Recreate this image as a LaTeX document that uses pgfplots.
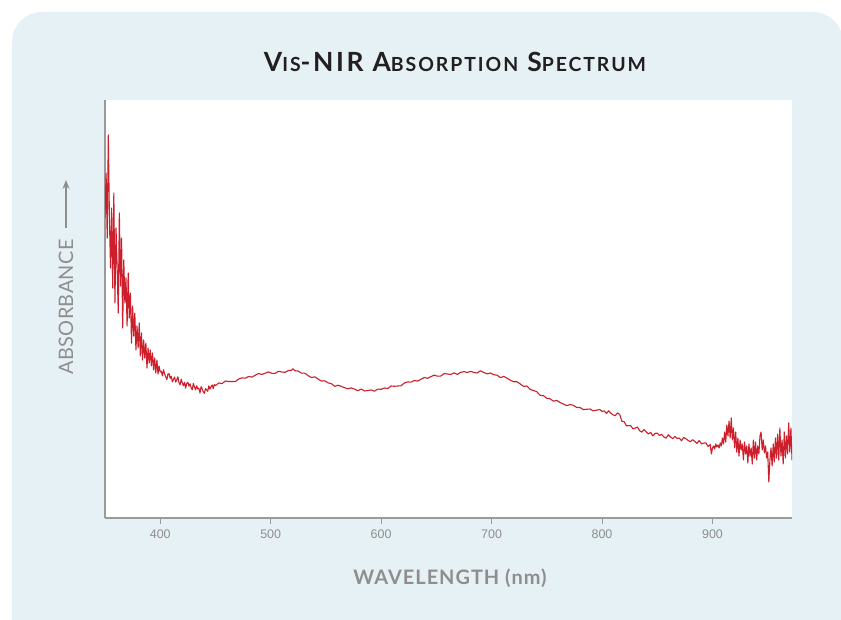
\documentclass[border=0pt]{standalone}
\usepackage{fontspec}
\usepackage{pgfplots}
\pgfplotsset{compat=1.18}
\usetikzlibrary{arrows.meta}
\setmainfont{Lato}
\newfontfamily\tickfont{Liberation Sans}
\newfontfamily\titlefont[LetterSpace=10]{Lato}
\newfontfamily\labfont[LetterSpace=5]{Lato}
\newfontfamily\ylabfont[LetterSpace=2]{Lato}
\definecolor{panel}{HTML}{E6F1F6}
\definecolor{axgray}{HTML}{9A9A9A}
\definecolor{labgray}{HTML}{8E8E8E}
\definecolor{spec}{HTML}{CC1F2B}
\definecolor{titlecol}{HTML}{231F20}

\pgfplotstableread{
x y
350 300
351 345
352 280
353 383
354 300
355 250
356 310
357 230
358 325
359 215
360 290
361 250
362 205
363 305
364 232
365 280
366 190
367 258
368 215
369 240
370 192
371 245
372 200
373 225
374 175
375 212
376 182
377 205
378 168
379 192
380 170
381 195
382 162
383 185
384 158
385 178
386 160
387 175
388 150
389 170
390 155
391 168
392 152
393 165
394 148
395 160
396 145
397 158
398 144
399 152
400 146
401 146.8
402 142.1
403 148.2
404 144.0
405 141.2
406 138.4
407 144.0
408 144.3
409 139.7
410 141.8
411 136.1
412 138.6
413 141.0
414 135.9
415 138.3
416 141.2
417 135.3
418 133.1
419 138.8
420 135.0
421 132.2
422 135.8
423 129.8
424 134.6
425 135.8
426 131.8
427 134.2
428 130.2
429 128.2
430 134.6
431 131.0
432 128.2
433 132.2
434 129.0
435 129.8
436 125.0
437 131.4
438 129.0
439 126.2
440 124.6
441 129.4
442 128.2
443 126.7
444 132.1
445 128.8
446 131.2
447 133.0
448 129.4
449 133.6
450 132.4
453 135.0
456 134.4
459 137.0
462 136.5
465 136.5
468 136.4
471 139.0
474 140.1
477 139.8
480 141.5
483 140.9
486 142.7
489 144.5
492 143.5
495 144.8
498 146.1
501 144.7
504 144.5
507 146.7
510 146.0
513 145.7
516 147.4
519 147.8
520 149.2
522 147.3
525 146.9
528 144.8
531 144.8
534 142.2
537 140.4
540 141.2
543 138.9
546 136.9
549 137.2
552 135.1
555 134.3
558 131.6
561 132.8
564 131.6
567 130.2
570 129.2
573 130.1
576 128.8
579 127.3
582 129.0
585 127.0
588 127.5
591 128.0
594 126.8
597 128.9
600 128.7
603 130.0
606 129.4
609 132.0
612 131.7
615 132.0
618 132.2
621 135.0
624 136.1
627 135.8
630 137.5
633 136.9
636 138.7
639 140.5
642 139.7
645 141.3
648 142.9
651 141.8
654 141.9
657 144.4
660 144.0
663 143.5
666 145.1
669 143.6
672 145.6
675 146.4
678 145.5
681 146.7
684 145.5
687 145.0
690 147.2
693 145.5
696 144.1
699 145.0
702 143.3
705 142.8
708 140.4
711 141.6
714 139.8
717 137.8
720 136.2
723 136.2
726 134.0
729 131.6
732 132.0
735 128.5
738 127.5
741 126.2
744 122.6
747 122.3
750 119.7
753 119.2
756 116.8
759 117.6
762 115.5
765 114.0
768 112.4
771 113.4
774 112.7
777 110.6
780 110.5
783 108.4
786 108.7
789 109.0
792 107.1
795 107.8
798 108.5
800 106.6
802 107.1
804 104.5
806 107.2
808 104.8
810 103.1
812 102.3
814 105.1
816 103.5
818 96.6
820 96.4
822 92.2
824 92.3
826 92.3
828 89.1
830 89.9
832 91.0
834 87.3
836 85.8
838 88.5
840 86.0
842 84.0
844 85.7
846 82.1
848 84.6
850 84.9
852 82.5
854 83.6
856 81.1
858 79.8
860 83.2
862 81.0
864 79.4
866 81.5
868 79.6
870 79.9
872 77.2
874 80.6
876 79.2
878 77.5
880 76.4
882 78.3
884 76.6
886 74.6
888 77.5
890 74.1
892 74.8
894 75.2
896 71.5
898 73.4
899 64
900 70
901 72
902 69
903 74
904 71
905 73
906 70
907 75
908 72
909 80
910 74
911 86
912 76
913 93
914 82
915 97
916 80
917 100
918 78
919 90
920 70
921 86
922 66
923 80
924 62
925 78
926 68
927 74
928 58
929 76
930 64
931 72
932 55
933 74
934 62
935 70
936 54
937 78
938 60
939 76
940 58
941 72
942 64
943 82
944 86
945 68
946 78
947 65
948 72
949 60
950 66
951 36
952 58
953 70
954 52
955 74
956 56
957 80
958 60
959 84
960 58
961 90
962 62
963 78
964 54
965 86
966 60
967 82
968 64
969 95
970 66
971 90
972 58
}\spectrum

\begin{document}
\begin{tikzpicture}[x=1bp,y=1bp]
\useasboundingbox (-105,-102) rectangle (736,518);
\fill[white] (-105,-102) rectangle (736,518);
\fill[panel, rounded corners=30bp] (-93,-160) rectangle (738,506);
\begin{axis}[
  at={(0,0)}, anchor=south west,
  scale only axis, width=687bp, height=418bp,
  xmin=350, xmax=972, ymin=0, ymax=418,
  axis lines*=left,
  axis background/.style={fill=white},
  ytick=\empty,
  xtick={400,500,600,700,800,900},
  tick align=outside,
  major tick length=6bp,
  tick style={axgray, line width=1bp},
  axis line style={axgray, line width=1.5bp},
  xticklabel style={font=\tickfont\fontsize{12.5}{14}\selectfont, text=labgray, yshift=-2bp},
  /pgf/number format/assume math mode=true,
  clip=true,
]
\addplot[spec, line width=1.1bp, line join=round] table[x=x,y=y] {\spectrum};
\end{axis}
\node[text=titlecol, font=\titlefont\bfseries] at (350,456)
  {\fontsize{26.5}{30}\selectfont V{\fontsize{19.5}{22}\selectfont IS}-NIR A{\fontsize{19.5}{22}\selectfont BSORPTION} S{\fontsize{19.5}{22}\selectfont PECTRUM}};
\node[text=labgray, font=\labfont\bfseries\fontsize{20}{22}\selectfont] at (345,-60) {WAVELENGTH (nm)};
\node[text=labgray, rotate=90, font=\ylabfont\fontsize{20}{22}\selectfont] at (-39,211) {ABSORBANCE};
\draw[labgray, line width=1.3bp, -{Stealth[length=9bp,width=7bp]}] (-39,290) -- (-39,338);
\end{tikzpicture}
\end{document}
